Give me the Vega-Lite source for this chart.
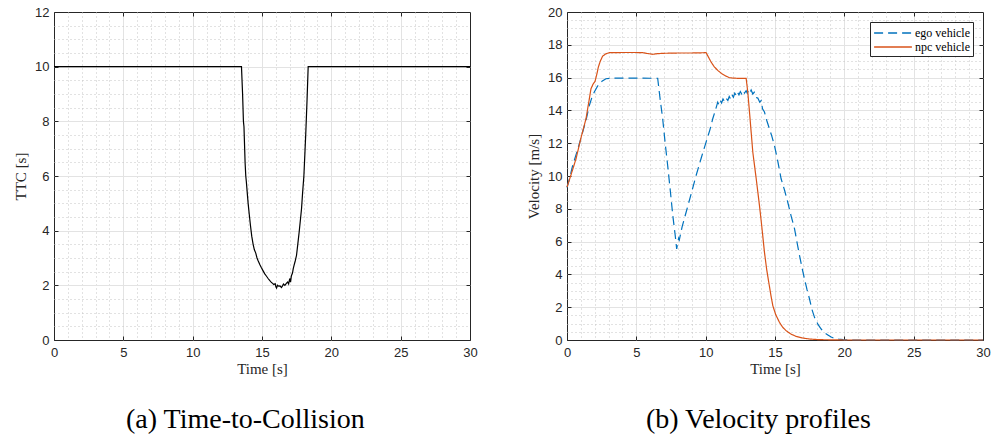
{
  "$schema": "https://vega.github.io/schema/vega-lite/v6.json",
  "background": "white",
  "padding": {"left": 13, "top": 5, "right": 10, "bottom": 5},
  "spacing": 48,
  "resolve": {"scale": {"color": "independent", "strokeDash": "independent"}, "legend": {"color": "independent", "strokeDash": "independent"}},
  "datasets": {
    "ttc": [
      {"t": 0, "ttc": 10}, {"t": 13.52, "ttc": 10}, {"t": 13.6, "ttc": 9.0}, {"t": 13.66, "ttc": 8.0},
      {"t": 13.7, "ttc": 7.8}, {"t": 13.78, "ttc": 6.5}, {"t": 13.83, "ttc": 6.0}, {"t": 13.87, "ttc": 5.8},
      {"t": 13.95, "ttc": 5.3}, {"t": 14.0, "ttc": 5.0}, {"t": 14.08, "ttc": 4.6}, {"t": 14.17, "ttc": 4.18},
      {"t": 14.26, "ttc": 3.8}, {"t": 14.36, "ttc": 3.5}, {"t": 14.45, "ttc": 3.3}, {"t": 14.55, "ttc": 3.18},
      {"t": 14.64, "ttc": 3.0}, {"t": 14.72, "ttc": 2.9}, {"t": 14.85, "ttc": 2.75}, {"t": 14.95, "ttc": 2.65},
      {"t": 15.08, "ttc": 2.53}, {"t": 15.2, "ttc": 2.42}, {"t": 15.3, "ttc": 2.35}, {"t": 15.44, "ttc": 2.25},
      {"t": 15.55, "ttc": 2.18}, {"t": 15.66, "ttc": 2.12}, {"t": 15.76, "ttc": 2.07}, {"t": 15.85, "ttc": 2.03},
      {"t": 15.95, "ttc": 2.06}, {"t": 16.0, "ttc": 1.95}, {"t": 16.05, "ttc": 1.9}, {"t": 16.12, "ttc": 2.0},
      {"t": 16.2, "ttc": 1.97}, {"t": 16.3, "ttc": 1.98}, {"t": 16.4, "ttc": 1.92}, {"t": 16.48, "ttc": 1.98},
      {"t": 16.55, "ttc": 2.05}, {"t": 16.65, "ttc": 2.0}, {"t": 16.77, "ttc": 2.08}, {"t": 16.85, "ttc": 2.12},
      {"t": 16.92, "ttc": 2.05}, {"t": 17.0, "ttc": 2.25}, {"t": 17.06, "ttc": 2.12}, {"t": 17.12, "ttc": 2.35},
      {"t": 17.2, "ttc": 2.45}, {"t": 17.25, "ttc": 2.6}, {"t": 17.32, "ttc": 2.75}, {"t": 17.4, "ttc": 2.9},
      {"t": 17.49, "ttc": 3.1}, {"t": 17.58, "ttc": 3.5}, {"t": 17.68, "ttc": 3.95}, {"t": 17.77, "ttc": 4.4},
      {"t": 17.85, "ttc": 4.8}, {"t": 17.93, "ttc": 5.4}, {"t": 18.02, "ttc": 6.0}, {"t": 18.1, "ttc": 6.9},
      {"t": 18.16, "ttc": 7.6}, {"t": 18.25, "ttc": 8.8}, {"t": 18.33, "ttc": 10}, {"t": 30, "ttc": 10}
    ],
    "vel": [
      {"t": 0, "v": 9.3, "s": "ego vehicle"}, {"t": 0.2, "v": 9.9, "s": "ego vehicle"}, {"t": 0.41, "v": 10.64, "s": "ego vehicle"},
      {"t": 0.8, "v": 11.7, "s": "ego vehicle"}, {"t": 1.13, "v": 12.68, "s": "ego vehicle"}, {"t": 1.4, "v": 13.5, "s": "ego vehicle"},
      {"t": 1.61, "v": 14.3, "s": "ego vehicle"}, {"t": 1.8, "v": 14.8, "s": "ego vehicle"}, {"t": 1.97, "v": 15.12, "s": "ego vehicle"},
      {"t": 2.15, "v": 15.4, "s": "ego vehicle"}, {"t": 2.33, "v": 15.63, "s": "ego vehicle"}, {"t": 2.55, "v": 15.8, "s": "ego vehicle"},
      {"t": 2.81, "v": 15.93, "s": "ego vehicle"}, {"t": 3.2, "v": 15.97, "s": "ego vehicle"}, {"t": 4, "v": 15.97, "s": "ego vehicle"},
      {"t": 5, "v": 15.97, "s": "ego vehicle"}, {"t": 6, "v": 15.96, "s": "ego vehicle"}, {"t": 6.54, "v": 15.96, "s": "ego vehicle"},
      {"t": 6.7, "v": 14.8, "s": "ego vehicle"}, {"t": 6.9, "v": 13.49, "s": "ego vehicle"}, {"t": 7.08, "v": 12.0, "s": "ego vehicle"},
      {"t": 7.26, "v": 10.64, "s": "ego vehicle"}, {"t": 7.45, "v": 9.1, "s": "ego vehicle"}, {"t": 7.63, "v": 7.59, "s": "ego vehicle"},
      {"t": 7.8, "v": 6.4, "s": "ego vehicle"}, {"t": 7.91, "v": 5.55, "s": "ego vehicle"}, {"t": 7.98, "v": 5.9, "s": "ego vehicle"},
      {"t": 8.05, "v": 6.2, "s": "ego vehicle"}, {"t": 8.1, "v": 6.1, "s": "ego vehicle"}, {"t": 8.3, "v": 6.9, "s": "ego vehicle"},
      {"t": 8.59, "v": 7.79, "s": "ego vehicle"}, {"t": 8.95, "v": 8.9, "s": "ego vehicle"}, {"t": 9.31, "v": 10.03, "s": "ego vehicle"},
      {"t": 9.68, "v": 11.1, "s": "ego vehicle"}, {"t": 10.03, "v": 12.07, "s": "ego vehicle"}, {"t": 10.3, "v": 12.8, "s": "ego vehicle"},
      {"t": 10.51, "v": 13.49, "s": "ego vehicle"}, {"t": 10.7, "v": 14.0, "s": "ego vehicle"}, {"t": 10.87, "v": 14.5, "s": "ego vehicle"},
      {"t": 10.95, "v": 14.35, "s": "ego vehicle"}, {"t": 11.05, "v": 14.6, "s": "ego vehicle"}, {"t": 11.15, "v": 14.45, "s": "ego vehicle"},
      {"t": 11.25, "v": 14.7, "s": "ego vehicle"}, {"t": 11.35, "v": 14.55, "s": "ego vehicle"}, {"t": 11.47, "v": 14.75, "s": "ego vehicle"},
      {"t": 11.6, "v": 14.6, "s": "ego vehicle"}, {"t": 11.7, "v": 14.85, "s": "ego vehicle"}, {"t": 11.8, "v": 14.7, "s": "ego vehicle"},
      {"t": 11.9, "v": 14.95, "s": "ego vehicle"}, {"t": 12.0, "v": 14.8, "s": "ego vehicle"}, {"t": 12.1, "v": 15.05, "s": "ego vehicle"},
      {"t": 12.2, "v": 14.9, "s": "ego vehicle"}, {"t": 12.3, "v": 15.1, "s": "ego vehicle"}, {"t": 12.4, "v": 14.95, "s": "ego vehicle"},
      {"t": 12.5, "v": 15.15, "s": "ego vehicle"}, {"t": 12.6, "v": 15.0, "s": "ego vehicle"}, {"t": 12.7, "v": 15.2, "s": "ego vehicle"},
      {"t": 12.8, "v": 15.05, "s": "ego vehicle"}, {"t": 12.92, "v": 15.2, "s": "ego vehicle"}, {"t": 13.0, "v": 15.05, "s": "ego vehicle"},
      {"t": 13.1, "v": 15.25, "s": "ego vehicle"}, {"t": 13.2, "v": 15.1, "s": "ego vehicle"}, {"t": 13.28, "v": 15.25, "s": "ego vehicle"},
      {"t": 13.4, "v": 15.0, "s": "ego vehicle"}, {"t": 13.5, "v": 15.1, "s": "ego vehicle"}, {"t": 13.6, "v": 14.8, "s": "ego vehicle"},
      {"t": 13.76, "v": 14.75, "s": "ego vehicle"}, {"t": 13.9, "v": 14.5, "s": "ego vehicle"}, {"t": 14.0, "v": 14.6, "s": "ego vehicle"},
      {"t": 14.1, "v": 14.1, "s": "ego vehicle"}, {"t": 14.24, "v": 13.9, "s": "ego vehicle"}, {"t": 14.4, "v": 13.4, "s": "ego vehicle"},
      {"t": 14.6, "v": 12.88, "s": "ego vehicle"}, {"t": 14.78, "v": 12.4, "s": "ego vehicle"}, {"t": 14.96, "v": 11.86, "s": "ego vehicle"},
      {"t": 15.2, "v": 10.9, "s": "ego vehicle"}, {"t": 15.44, "v": 9.83, "s": "ego vehicle"}, {"t": 15.7, "v": 9.1, "s": "ego vehicle"},
      {"t": 15.92, "v": 8.4, "s": "ego vehicle"}, {"t": 16.15, "v": 7.6, "s": "ego vehicle"}, {"t": 16.41, "v": 6.78, "s": "ego vehicle"},
      {"t": 16.6, "v": 5.9, "s": "ego vehicle"}, {"t": 16.77, "v": 5.15, "s": "ego vehicle"}, {"t": 16.95, "v": 4.4, "s": "ego vehicle"},
      {"t": 17.13, "v": 3.72, "s": "ego vehicle"}, {"t": 17.3, "v": 3.1, "s": "ego vehicle"}, {"t": 17.49, "v": 2.5, "s": "ego vehicle"},
      {"t": 17.65, "v": 1.9, "s": "ego vehicle"}, {"t": 17.85, "v": 1.38, "s": "ego vehicle"}, {"t": 18.1, "v": 0.95, "s": "ego vehicle"},
      {"t": 18.33, "v": 0.67, "s": "ego vehicle"}, {"t": 18.55, "v": 0.45, "s": "ego vehicle"}, {"t": 18.81, "v": 0.31, "s": "ego vehicle"},
      {"t": 19.05, "v": 0.18, "s": "ego vehicle"}, {"t": 19.29, "v": 0.1, "s": "ego vehicle"}, {"t": 19.6, "v": 0.05, "s": "ego vehicle"},
      {"t": 19.9, "v": 0.02, "s": "ego vehicle"}, {"t": 20.5, "v": 0, "s": "ego vehicle"}, {"t": 30, "v": 0, "s": "ego vehicle"},
      {"t": 0, "v": 9.32, "s": "npc vehicle"}, {"t": 0.3, "v": 10.1, "s": "npc vehicle"}, {"t": 0.65, "v": 11.05, "s": "npc vehicle"},
      {"t": 1.0, "v": 12.3, "s": "npc vehicle"}, {"t": 1.37, "v": 13.49, "s": "npc vehicle"}, {"t": 1.55, "v": 14.4, "s": "npc vehicle"},
      {"t": 1.73, "v": 15.32, "s": "npc vehicle"}, {"t": 1.88, "v": 15.6, "s": "npc vehicle"}, {"t": 2.02, "v": 15.77, "s": "npc vehicle"},
      {"t": 2.15, "v": 16.2, "s": "npc vehicle"}, {"t": 2.26, "v": 16.64, "s": "npc vehicle"}, {"t": 2.4, "v": 17.0, "s": "npc vehicle"},
      {"t": 2.57, "v": 17.31, "s": "npc vehicle"}, {"t": 2.8, "v": 17.45, "s": "npc vehicle"}, {"t": 3.06, "v": 17.52, "s": "npc vehicle"},
      {"t": 4, "v": 17.53, "s": "npc vehicle"}, {"t": 5, "v": 17.53, "s": "npc vehicle"}, {"t": 5.46, "v": 17.52, "s": "npc vehicle"},
      {"t": 5.8, "v": 17.47, "s": "npc vehicle"}, {"t": 6.18, "v": 17.42, "s": "npc vehicle"}, {"t": 6.5, "v": 17.46, "s": "npc vehicle"},
      {"t": 6.9, "v": 17.48, "s": "npc vehicle"}, {"t": 8, "v": 17.5, "s": "npc vehicle"}, {"t": 9, "v": 17.5, "s": "npc vehicle"},
      {"t": 10.03, "v": 17.52, "s": "npc vehicle"}, {"t": 10.2, "v": 17.25, "s": "npc vehicle"}, {"t": 10.39, "v": 16.95, "s": "npc vehicle"},
      {"t": 10.6, "v": 16.68, "s": "npc vehicle"}, {"t": 10.87, "v": 16.44, "s": "npc vehicle"}, {"t": 11.15, "v": 16.25, "s": "npc vehicle"},
      {"t": 11.47, "v": 16.09, "s": "npc vehicle"}, {"t": 11.7, "v": 16.0, "s": "npc vehicle"}, {"t": 11.96, "v": 15.97, "s": "npc vehicle"},
      {"t": 12.5, "v": 15.95, "s": "npc vehicle"}, {"t": 12.92, "v": 15.95, "s": "npc vehicle"}, {"t": 13.04, "v": 15.1, "s": "npc vehicle"},
      {"t": 13.2, "v": 13.5, "s": "npc vehicle"}, {"t": 13.4, "v": 11.45, "s": "npc vehicle"}, {"t": 13.65, "v": 9.8, "s": "npc vehicle"},
      {"t": 13.88, "v": 8.2, "s": "npc vehicle"}, {"t": 14.05, "v": 6.9, "s": "npc vehicle"}, {"t": 14.24, "v": 5.35, "s": "npc vehicle"},
      {"t": 14.4, "v": 4.3, "s": "npc vehicle"}, {"t": 14.55, "v": 3.52, "s": "npc vehicle"}, {"t": 14.7, "v": 2.75, "s": "npc vehicle"},
      {"t": 14.84, "v": 2.1, "s": "npc vehicle"}, {"t": 15.05, "v": 1.55, "s": "npc vehicle"}, {"t": 15.32, "v": 1.08, "s": "npc vehicle"},
      {"t": 15.55, "v": 0.78, "s": "npc vehicle"}, {"t": 15.8, "v": 0.57, "s": "npc vehicle"}, {"t": 16.15, "v": 0.36, "s": "npc vehicle"},
      {"t": 16.53, "v": 0.22, "s": "npc vehicle"}, {"t": 17.0, "v": 0.12, "s": "npc vehicle"}, {"t": 17.49, "v": 0.06, "s": "npc vehicle"},
      {"t": 18.2, "v": 0.02, "s": "npc vehicle"}, {"t": 19.17, "v": 0.01, "s": "npc vehicle"}, {"t": 20, "v": 0, "s": "npc vehicle"},
      {"t": 30, "v": 0, "s": "npc vehicle"}
    ]
  },
  "hconcat": [
    {
      "width": 416,
      "height": 328,
      "data": {"name": "ttc"},
      "title": {"text": "(a) Time-to-Collision", "orient": "bottom", "anchor": "middle", "frame": "bounds", "font": "Liberation Serif", "fontSize": 28, "fontWeight": "normal", "color": "black", "offset": 30},
      "layer": [
        {
          "mark": {"type": "line", "color": "black", "strokeWidth": 1.2},
          "encoding": {
            "x": {"field": "t", "type": "quantitative", "scale": {"domain": [0, 30], "nice": false, "zero": false},
              "axis": {"orient": "bottom", "title": "Time [s]", "values": [0,1,2,3,4,5,6,7,8,9,10,11,12,13,14,15,16,17,18,19,20,21,22,23,24,25,26,27,28,29,30],
                "format": "~g", "labelExpr": "datum.value % 5 == 0 ? datum.label : ''", "labelOverlap": false, "labelFlush": false,
                "grid": true, "domain": false,
                "gridColor": {"condition": {"test": "datum.value % 5 == 0", "value": "#e3e3e3"}, "value": "#c4c4c4"},
                "gridDash": {"condition": {"test": "datum.value % 5 == 0", "value": []}, "value": [1, 3]},
                "gridOpacity": {"condition": {"test": "datum.value == 0 || datum.value == 30", "value": 0}, "value": 1},
                "tickOpacity": {"condition": {"test": "datum.value % 5 == 0", "value": 1}, "value": 0},
                "tickSize": -4, "tickColor": "#262626", "labelPadding": 10, "titlePadding": 2}},
            "y": {"field": "ttc", "type": "quantitative", "scale": {"domain": [0, 12], "nice": false},
              "axis": {"orient": "left", "title": "TTC [s]", "values": [0,0.5,1,1.5,2,2.5,3,3.5,4,4.5,5,5.5,6,6.5,7,7.5,8,8.5,9,9.5,10,10.5,11,11.5,12],
                "format": "~g", "labelExpr": "datum.value % 2 == 0 ? datum.label : ''", "labelOverlap": false, "labelFlush": false,
                "grid": true, "domain": false,
                "gridColor": {"condition": {"test": "datum.value % 2 == 0", "value": "#e3e3e3"}, "value": "#c4c4c4"},
                "gridDash": {"condition": {"test": "datum.value % 2 == 0", "value": []}, "value": [1, 3]},
                "gridOpacity": {"condition": {"test": "datum.value == 0 || datum.value == 12", "value": 0}, "value": 1},
                "tickOpacity": {"condition": {"test": "datum.value % 2 == 0", "value": 1}, "value": 0},
                "tickSize": -4, "tickColor": "#262626", "labelPadding": 9, "titlePadding": 6}}
          }
        },
        {
          "mark": {"type": "line", "opacity": 0},
          "encoding": {
            "x": {"field": "t", "type": "quantitative", "axis": {"orient": "top", "title": null, "values": [5, 10, 15, 20, 25], "labels": false, "grid": false, "domain": false, "tickSize": -4, "tickColor": "#262626"}},
            "y": {"field": "ttc", "type": "quantitative", "axis": {"orient": "right", "title": null, "values": [2, 4, 6, 8, 10], "labels": false, "grid": false, "domain": false, "tickSize": -4, "tickColor": "#262626"}}
          }
        }
      ],
      "resolve": {"axis": {"x": "independent", "y": "independent"}}
    },
    {
      "width": 416,
      "height": 328,
      "data": {"name": "vel"},
      "title": {"text": "(b) Velocity profiles", "orient": "bottom", "anchor": "middle", "frame": "bounds", "font": "Liberation Serif", "fontSize": 28, "fontWeight": "normal", "color": "black", "offset": 30},
      "layer": [
        {
          "mark": {"type": "line", "strokeWidth": 1.2},
          "encoding": {
            "x": {"field": "t", "type": "quantitative", "scale": {"domain": [0, 30], "nice": false, "zero": false},
              "axis": {"orient": "bottom", "title": "Time [s]", "values": [0,1,2,3,4,5,6,7,8,9,10,11,12,13,14,15,16,17,18,19,20,21,22,23,24,25,26,27,28,29,30],
                "format": "~g", "labelExpr": "datum.value % 5 == 0 ? datum.label : ''", "labelOverlap": false, "labelFlush": false,
                "grid": true, "domain": false,
                "gridColor": {"condition": {"test": "datum.value % 5 == 0", "value": "#e3e3e3"}, "value": "#c4c4c4"},
                "gridDash": {"condition": {"test": "datum.value % 5 == 0", "value": []}, "value": [1, 3]},
                "gridOpacity": {"condition": {"test": "datum.value == 0 || datum.value == 30", "value": 0}, "value": 1},
                "tickOpacity": {"condition": {"test": "datum.value % 5 == 0", "value": 1}, "value": 0},
                "tickSize": -4, "tickColor": "#262626", "labelPadding": 10, "titlePadding": 2}},
            "y": {"field": "v", "type": "quantitative", "scale": {"domain": [0, 20], "nice": false},
              "axis": {"orient": "left", "title": "Velocity [m/s]", "values": [0,0.5,1,1.5,2,2.5,3,3.5,4,4.5,5,5.5,6,6.5,7,7.5,8,8.5,9,9.5,10,10.5,11,11.5,12,12.5,13,13.5,14,14.5,15,15.5,16,16.5,17,17.5,18,18.5,19,19.5,20],
                "format": "~g", "labelExpr": "datum.value % 2 == 0 ? datum.label : ''", "labelOverlap": false, "labelFlush": false,
                "grid": true, "domain": false,
                "gridColor": {"condition": {"test": "datum.value % 2 == 0", "value": "#e3e3e3"}, "value": "#c4c4c4"},
                "gridDash": {"condition": {"test": "datum.value % 2 == 0", "value": []}, "value": [1, 3]},
                "gridOpacity": {"condition": {"test": "datum.value == 0 || datum.value == 20", "value": 0}, "value": 1},
                "tickOpacity": {"condition": {"test": "datum.value % 2 == 0", "value": 1}, "value": 0},
                "tickSize": -4, "tickColor": "#262626", "labelPadding": 9, "titlePadding": 6}},
            "color": {"field": "s", "type": "nominal", "scale": {"domain": ["ego vehicle", "npc vehicle"], "range": ["#0072BD", "#D95319"]},
              "legend": {"orient": "top-right", "offset": 10, "title": null, "fillColor": "white", "strokeColor": "#262626", "padding": 3,
                "labelFont": "Liberation Serif", "labelFontSize": 12, "labelColor": "black", "symbolType": "M-2.7,0H2.7", "symbolSize": 196, "symbolOffset": 12, "symbolStrokeWidth": 1.5, "rowPadding": 0, "labelOffset": 14}},
            "strokeDash": {"field": "s", "type": "nominal", "scale": {"domain": ["ego vehicle", "npc vehicle"], "range": [[9, 5], [1, 0]]},
              "legend": {"orient": "top-right", "offset": 10, "title": null, "fillColor": "white", "strokeColor": "#262626", "padding": 3,
                "labelFont": "Liberation Serif", "labelFontSize": 12, "labelColor": "black", "symbolType": "M-2.7,0H2.7", "symbolSize": 196, "symbolOffset": 12, "symbolStrokeWidth": 1.5, "rowPadding": 0, "labelOffset": 14}}
          }
        },
        {
          "mark": {"type": "line", "opacity": 0},
          "encoding": {
            "x": {"field": "t", "type": "quantitative", "axis": {"orient": "top", "title": null, "values": [5, 10, 15, 20, 25], "labels": false, "grid": false, "domain": false, "tickSize": -4, "tickColor": "#262626"}},
            "y": {"field": "v", "type": "quantitative", "axis": {"orient": "right", "title": null, "values": [2,4,6,8,10,12,14,16,18], "labels": false, "grid": false, "domain": false, "tickSize": -4, "tickColor": "#262626"}}
          }
        }
      ],
      "resolve": {"axis": {"x": "independent", "y": "independent"}}
    }
  ],
  "config": {
    "view": {"stroke": "#262626", "strokeWidth": 1},
    "axis": {"labelFont": "Liberation Sans", "labelFontSize": 13, "labelColor": "#262626", "titleFont": "Liberation Serif", "titleFontSize": 15, "titleFontWeight": "normal", "titleColor": "#262626"}
  }
}
